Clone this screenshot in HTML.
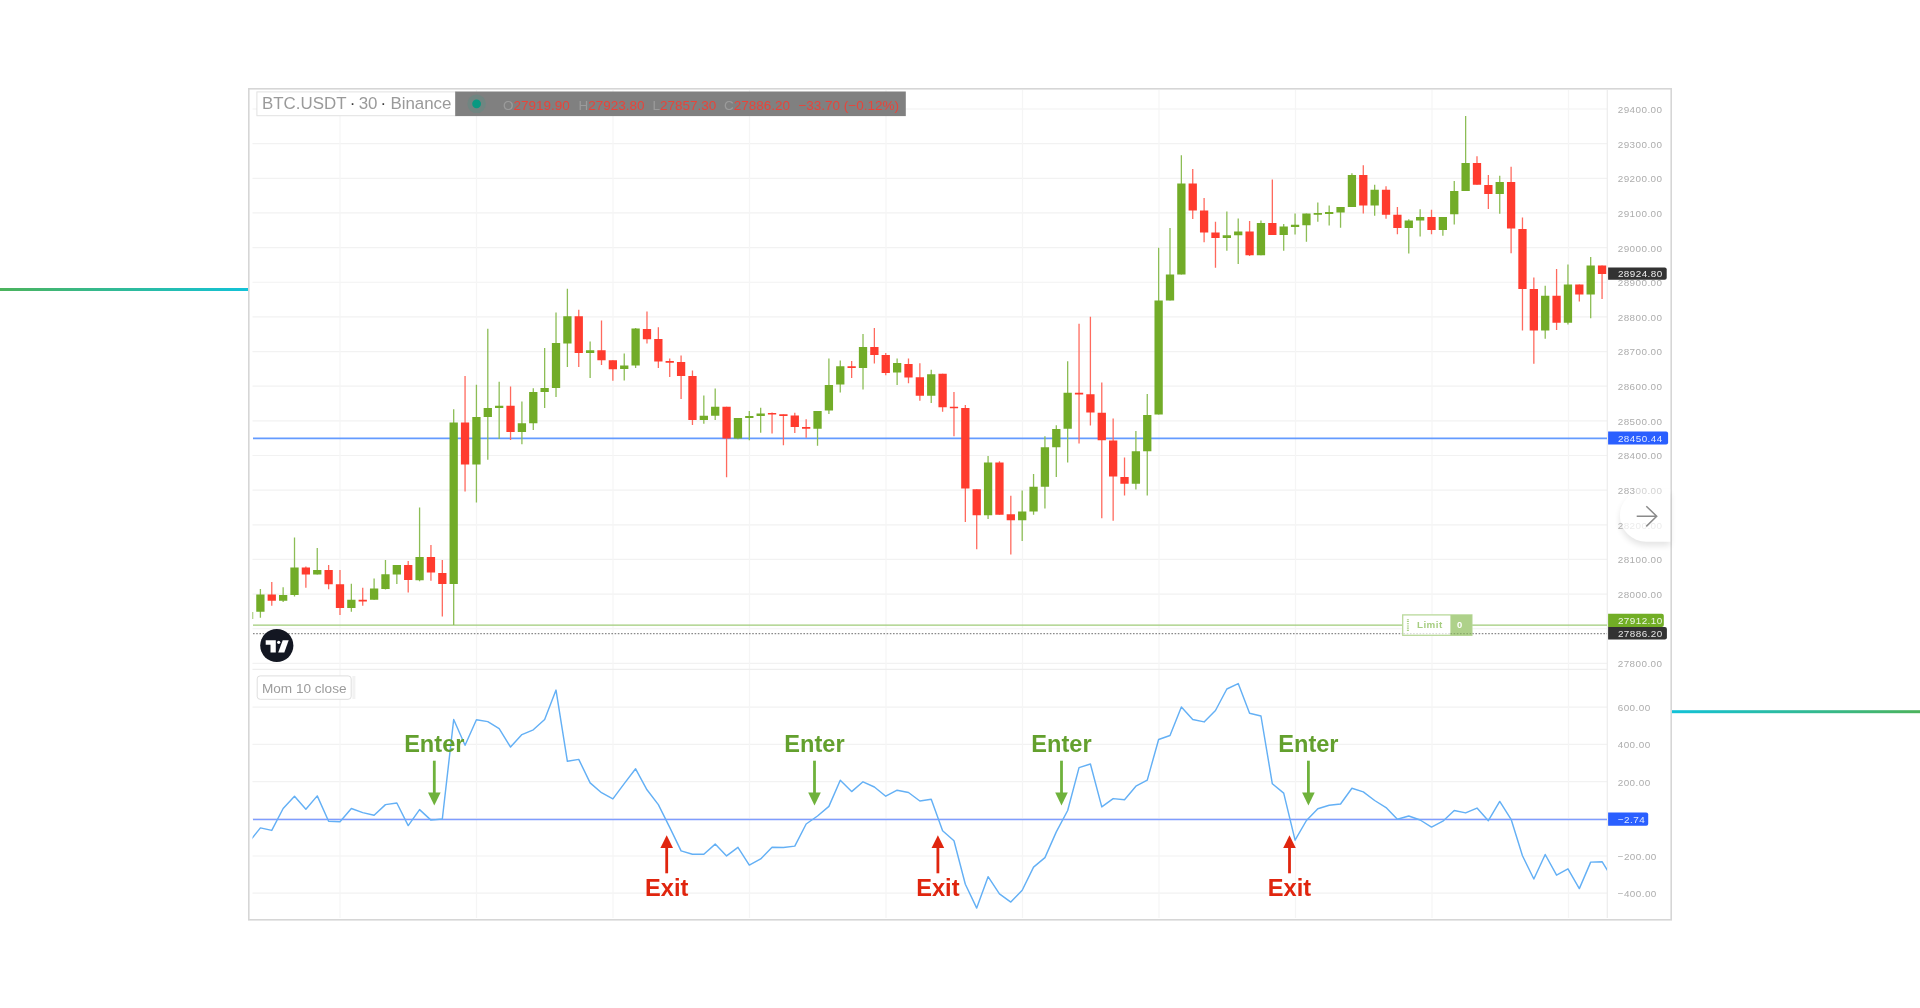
<!DOCTYPE html><html><head><meta charset="utf-8"><title>BTC.USDT Momentum</title><style>html,body{margin:0;padding:0;background:#fff;width:1920px;height:1008px;overflow:hidden}svg{position:absolute;left:0;top:0;display:block;filter:blur(0.4px)}text{font-family:"Liberation Sans",Arial,sans-serif}</style></head><body><svg width="1920" height="1008" viewBox="0 0 1920 1008"><defs><linearGradient id="gl" x1="0" x2="1" y1="0" y2="0"><stop offset="0" stop-color="#4cb35c"/><stop offset="1" stop-color="#12c2d8"/></linearGradient><linearGradient id="gr" x1="0" x2="1" y1="0" y2="0"><stop offset="0" stop-color="#12c2d8"/><stop offset="1" stop-color="#4cb35c"/></linearGradient><clipPath id="cp"><rect x="252.5" y="90" width="1354.5" height="579.3"/></clipPath><clipPath id="cm"><rect x="252.5" y="669.3" width="1354.5" height="248.7"/></clipPath><filter id="sh" x="-50%" y="-50%" width="200%" height="200%"><feGaussianBlur stdDeviation="3"/></filter></defs><rect x="0" y="288" width="248" height="3" fill="url(#gl)"/><rect x="1672" y="710.2" width="248" height="3" fill="url(#gr)"/><rect x="248.8" y="88.8" width="1422.4" height="831" fill="#fff" stroke="#d6d6d6" stroke-width="1.6"/><path d="M252.5 109H1607M252.5 143.65H1607M252.5 178.3H1607M252.5 212.95H1607M252.5 247.6H1607M252.5 282.25H1607M252.5 316.9H1607M252.5 351.55H1607M252.5 386.2H1607M252.5 420.85H1607M252.5 455.5H1607M252.5 490.15H1607M252.5 524.8H1607M252.5 559.45H1607M252.5 594.1H1607M252.5 628.75H1607M252.5 663.4H1607M252.5 707.2H1607M252.5 744.4H1607M252.5 781.6H1607M252.5 818.8H1607M252.5 856H1607M252.5 893.2H1607" stroke="#f2f2f2" stroke-width="1.2" fill="none"/><path d="M340 90V918M476.5 90V918M613 90V918M749.5 90V918M886 90V918M1022.5 90V918M1159 90V918M1295.5 90V918M1432 90V918M1568.5 90V918" stroke="#f5f5f5" stroke-width="1.2" fill="none"/><path d="M252.5 669.3H1607" stroke="#eeeeee" stroke-width="1.3"/><path d="M1607.3 90V918" stroke="#ececec" stroke-width="1.2"/><path d="M253 438.3H1607" stroke="#649bff" stroke-width="1.7"/><path d="M253 625.1H1607" stroke="#9fcb78" stroke-width="1.3"/><path d="M253 633.6H1607" stroke="#8a8a8a" stroke-width="1.3" stroke-dasharray="1.6 1.6"/><g clip-path="url(#cp)"><path d="M249.03 612V619M260.4 588.9V617.8M283.14 587.2V602.1M294.51 537.5V596.5M317.25 547.9V574.6M351.36 583.75V611.8M374.1 578.5V599.7M385.47 560V589.6M396.84 564.9V584M419.58 507.6V581.25M453.69 409.3V625M476.43 384.8V502.6M487.8 328.8V459.8M499.17 381.7V439M521.91 401.4V444.3M533.28 388.3V430M544.65 347.9V408.1M556.02 312.6V397.1M567.39 288.8V366.9M590.13 341.4V378.1M624.24 353.6V380.4M635.61 328V367.9M703.83 395.5V423.75M715.2 388.4V420M737.94 417.9V439.3M749.31 411V440.2M760.68 407.7V432.7M817.53 410.9V445.7M828.9 358.6V414.1M840.27 360.5V392.5M863.01 334.1V389.5M897.12 358.6V385M931.23 369.8V402.9M988.08 455.9V518.9M1022.19 490.4V541.1M1033.56 474.1V514.8M1044.93 436.25V508.6M1056.3 425.2V477M1067.67 361.3V462.5M1135.89 431V489.6M1147.26 394V495.4M1158.63 247.7V414.4M1170 227.9V300.4M1181.37 155.2V274.5M1226.85 211.4V250.7M1238.22 218.6V264.1M1260.96 220.4V255.2M1283.7 223.9V250.7M1295.07 213.6V234.6M1306.44 213.6V241.8M1317.81 202.6V221.8M1329.18 205.4V225.4M1340.55 207.1V227.7M1351.92 173.2V207.1M1374.66 184.8V215.7M1408.77 219.3V253.6M1420.14 209.3V236.6M1442.88 217V235.7M1454.25 180.9V224.6M1465.62 116.1V191M1499.73 175.7V213.7M1545.21 285.7V338.7M1567.95 264.5V324.5M1590.69 257.1V318.2" stroke="#8cbd55" stroke-width="1.3" fill="none"/><path d="M271.77 581.9V605.8M305.88 566.4V587.8M328.62 565V589.2M339.99 570.1V615M362.73 587.8V605.8M408.21 561.1V592.4M430.95 545.1V580.8M442.32 560V616.4M465.06 376V491.4M510.54 386.4V440M578.76 309.8V366.9M601.5 320.5V365M612.87 360.2V380.7M646.98 311.6V343.4M658.35 327.3V367.9M669.72 358.6V377.1M681.09 355.4V399.1M692.46 370.5V425M726.57 406.8V477.3M772.05 412.5V433.5M783.42 414.5V445.2M794.79 412.7V432.9M806.16 419.3V437.7M851.64 360.9V377.9M874.38 327.9V363.6M885.75 352.9V375.2M908.49 358.6V383.2M919.86 363.2V400.7M942.6 373.75V411.8M953.97 392.1V436.25M965.34 405V522M976.71 489.3V549.3M999.45 461.25V514.8M1010.82 495.7V554.6M1079.04 323.8V443.4M1090.41 316.7V425.5M1101.78 382.5V518.2M1113.15 418.5V520.8M1124.52 457.4V495.4M1192.74 169.1V219.1M1204.11 198V242.3M1215.48 221.8V267.7M1249.59 220.9V256.1M1272.33 179.6V235M1363.29 165.2V213.4M1386.03 186.25V218.75M1397.4 207.1V234.3M1431.51 209.8V234.3M1476.99 156.25V184.8M1488.36 175.1V208.9M1511.1 166.8V253.2M1522.47 217.6V330.6M1533.84 277.6V363.7M1556.58 268.9V330M1579.32 284.6V301.6M1602.06 265.4V299.1" stroke="#ff6a5e" stroke-width="1.3" fill="none"/><path d="M244.88 612h8.3v7h-8.3zM256.25 594.4h8.3v17.4h-8.3zM278.99 595.1h8.3v5.6h-8.3zM290.36 567.6h8.3v27.5h-8.3zM313.1 570.1h8.3v4.5h-8.3zM347.21 599.7h8.3v8.2h-8.3zM369.95 588.6h8.3v11.1h-8.3zM381.32 574.3h8.3v14.6h-8.3zM392.69 564.9h8.3v9.7h-8.3zM415.43 556.9h8.3v23.4h-8.3zM449.54 422.4h8.3v161.6h-8.3zM472.28 416.9h8.3v47.6h-8.3zM483.65 407.9h8.3v9h-8.3zM495.02 405.7h8.3v2.4h-8.3zM517.76 423.3h8.3v8.6h-8.3zM529.13 391.9h8.3v31.4h-8.3zM540.5 387.9h8.3v4h-8.3zM551.87 343.1h8.3v44.8h-8.3zM563.24 316.2h8.3v27.4h-8.3zM585.98 350.2h8.3v2.9h-8.3zM620.09 365.5h8.3v3.6h-8.3zM631.46 328.6h8.3v36.9h-8.3zM699.68 415.7h8.3v4.3h-8.3zM711.05 406.8h8.3v8.9h-8.3zM733.79 417.9h8.3v20.5h-8.3zM745.16 416.1h8.3v1.8h-8.3zM756.53 413.4h8.3v2.7h-8.3zM813.38 410.9h8.3v17.85h-8.3zM824.75 385h8.3v25.5h-8.3zM836.12 366.25h8.3v18.35h-8.3zM858.86 347h8.3v21h-8.3zM892.97 363h8.3v9.5h-8.3zM927.08 374.3h8.3v21.4h-8.3zM983.93 462.5h8.3v52.7h-8.3zM1018.04 511.6h8.3v8.6h-8.3zM1029.41 486.8h8.3v24.8h-8.3zM1040.78 447.3h8.3v39.5h-8.3zM1052.15 429.1h8.3v18.2h-8.3zM1063.52 392.7h8.3v36.05h-8.3zM1131.74 451.2h8.3v32.6h-8.3zM1143.11 415.1h8.3v36.1h-8.3zM1154.48 300.4h8.3v114h-8.3zM1165.85 274.5h8.3v25.9h-8.3zM1177.22 183.4h8.3v91.1h-8.3zM1222.7 235.2h8.3v2.7h-8.3zM1234.07 231.4h8.3v3.8h-8.3zM1256.81 223h8.3v32.2h-8.3zM1279.55 226.6h8.3v8.4h-8.3zM1290.92 224.8h8.3v2.2h-8.3zM1302.29 213.6h8.3v11.6h-8.3zM1313.66 213h8.3v1.8h-8.3zM1325.03 212.1h8.3v1.8h-8.3zM1336.4 207.1h8.3v5.4h-8.3zM1347.77 175h8.3v32.1h-8.3zM1370.51 189.8h8.3v15.6h-8.3zM1404.62 220.5h8.3v7.5h-8.3zM1415.99 217h8.3v3.5h-8.3zM1438.73 217h8.3v13h-8.3zM1450.1 191h8.3v23.3h-8.3zM1461.47 163h8.3v28h-8.3zM1495.58 182.1h8.3v12h-8.3zM1541.06 295.7h8.3v34.7h-8.3zM1563.8 284.6h8.3v38.1h-8.3zM1586.54 265.4h8.3v29.2h-8.3z" fill="#72ac28"/><path d="M267.62 594.4h8.3v6.3h-8.3zM301.73 567.4h8.3v7.2h-8.3zM324.47 570.1h8.3v14.2h-8.3zM335.84 584.3h8.3v23.6h-8.3zM358.58 599.7h8.3v1.7h-8.3zM404.06 564.9h8.3v15h-8.3zM426.8 556.9h8.3v15.6h-8.3zM438.17 572.9h8.3v11.1h-8.3zM460.91 422.4h8.3v42.1h-8.3zM506.39 405.7h8.3v26.2h-8.3zM574.61 316.2h8.3v36.9h-8.3zM597.35 350.2h8.3v10h-8.3zM608.72 360.2h8.3v9h-8.3zM642.83 328.9h8.3v10.4h-8.3zM654.2 338.9h8.3v22.7h-8.3zM665.57 361.02h8.3v1.7h-8.3zM676.94 362h8.3v13.9h-8.3zM688.31 375.9h8.3v44.1h-8.3zM722.42 406.8h8.3v31.6h-8.3zM767.9 412.9h8.3v1.7h-8.3zM779.27 414.35h8.3v1.7h-8.3zM790.64 415.4h8.3v11.6h-8.3zM802.01 427h8.3v1.75h-8.3zM847.49 366.25h8.3v1.75h-8.3zM870.23 347h8.3v8h-8.3zM881.6 355h8.3v17.9h-8.3zM904.34 363.9h8.3v13.6h-8.3zM915.71 377.3h8.3v18.4h-8.3zM938.45 373.75h8.3v33.45h-8.3zM949.82 406.65h8.3v1.7h-8.3zM961.19 408h8.3v80.6h-8.3zM972.56 489.3h8.3v25.9h-8.3zM995.3 462.5h8.3v52.3h-8.3zM1006.67 514.3h8.3v5.9h-8.3zM1074.89 392.7h8.3v1.7h-8.3zM1086.26 394.3h8.3v18.2h-8.3zM1097.63 412.7h8.3v27.6h-8.3zM1109 440.5h8.3v36.1h-8.3zM1120.37 477.1h8.3v6.7h-8.3zM1188.59 183.4h8.3v27.1h-8.3zM1199.96 210.5h8.3v22h-8.3zM1211.33 232.5h8.3v5.4h-8.3zM1245.44 231.4h8.3v23.8h-8.3zM1268.18 223h8.3v12h-8.3zM1359.14 175h8.3v30.4h-8.3zM1381.88 189.8h8.3v25h-8.3zM1393.25 214.8h8.3v13.2h-8.3zM1427.36 217h8.3v13h-8.3zM1472.84 163h8.3v21.8h-8.3zM1484.21 184.9h8.3v9.2h-8.3zM1506.95 182.1h8.3v46.4h-8.3zM1518.32 229h8.3v59.9h-8.3zM1529.69 288.9h8.3v41.5h-8.3zM1552.43 295.7h8.3v27h-8.3zM1575.17 284.6h8.3v10h-8.3zM1597.91 265.4h8.3v8.7h-8.3z" fill="#ff3b2e"/></g><line x1="253" y1="819.5" x2="1607" y2="819.5" stroke="#7f9dff" stroke-width="1.7"/><g clip-path="url(#cm)"><polyline points="249.03,842 260.4,827.9 271.77,830.4 283.14,808.5 294.51,796.2 305.88,809.2 317.25,795.9 328.62,821.3 339.99,821.7 351.36,808.5 362.73,812.6 374.1,815.3 385.47,804.6 396.84,803 408.21,825.6 419.58,809.6 430.95,820.1 442.32,819 453.69,719.5 465.06,745.3 476.43,719.7 487.8,721.6 499.17,728.6 510.54,747.1 521.91,734.6 533.28,729.8 544.65,719.5 556.02,690.1 567.39,761.3 578.76,759.4 590.13,782.9 601.5,792.7 612.87,798.9 624.24,783.6 635.61,768.8 646.98,789.8 658.35,804.6 669.72,827.4 681.09,850.9 692.46,854.3 703.83,854.3 715.2,844.1 726.57,855.9 737.94,847.3 749.31,865.1 760.68,858.9 772.05,847.3 783.42,847.5 794.79,846.1 806.16,824 817.53,816 828.9,806.4 840.27,780.2 851.64,791.6 863.01,781.8 874.38,787 885.75,796.2 897.12,790.2 908.49,792.5 919.86,801 931.23,799.3 942.6,830.7 953.97,840.7 965.34,884.3 976.71,908.1 988.08,876.7 999.45,893.8 1010.82,902.1 1022.19,890.2 1033.56,867.1 1044.93,857.6 1056.3,831.9 1067.67,810.5 1079.04,767.6 1090.41,764 1101.78,806.9 1113.15,798.6 1124.52,799.8 1135.89,786.2 1147.26,780.1 1158.63,739.5 1170,735.5 1181.37,706.9 1192.74,719.5 1204.11,721.9 1215.48,710.5 1226.85,689 1238.22,683.6 1249.59,713.3 1260.96,716 1272.33,783.8 1283.7,793.1 1295.07,840.2 1306.44,820.5 1317.81,808.8 1329.18,805.2 1340.55,804 1351.92,788.3 1363.29,791.9 1374.66,800.5 1386.03,807.6 1397.4,819.3 1408.77,816 1420.14,820 1431.51,827.1 1442.88,821.2 1454.25,810.5 1465.62,812.9 1476.99,808.1 1488.36,820.7 1499.73,801.4 1511.1,819.3 1522.47,855.7 1533.84,879 1545.21,854.5 1556.58,875.2 1567.95,868.8 1579.32,888.6 1590.69,862.1 1602.06,861.7 1613.43,880" fill="none" stroke="#64b0f5" stroke-width="1.45" stroke-linejoin="round"/></g><g><rect x="1402.7" y="614.9" width="69.2" height="20.4" fill="#fff" stroke="#b9d99b" stroke-width="1.3"/><rect x="1450.4" y="614.9" width="21.5" height="20.4" fill="#aed18a"/><path d="M1407.9 619.3V631" stroke="#a8cf84" stroke-width="2" stroke-dasharray="0.9 0.9"/><text x="1429.8" y="628.1" font-size="9.8" letter-spacing="0.45" font-weight="bold" fill="#a6cd80" text-anchor="middle">Limit</text><text x="1459.7" y="628.1" font-size="9.4" font-weight="bold" fill="#fff" text-anchor="middle">0</text><path d="M1403.5 633.6H1450.4" stroke="#8a8a8a" stroke-width="1.3" stroke-dasharray="1.6 1.6" opacity="0.3"/><path d="M1450.4 633.6H1471.5" stroke="#5d7a45" stroke-width="1.3" stroke-dasharray="1.6 1.6" opacity="0.45"/></g><text x="434.3" y="751.7" font-size="24.3" font-weight="bold" fill="#63a02e" text-anchor="middle" textLength="60.3" lengthAdjust="spacingAndGlyphs">Enter</text><path d="M434.3 760.7V794" stroke="#6fb23c" stroke-width="2.8"/><path d="M428 792.6h12.6l-6.3 12.8z" fill="#6fb23c"/><text x="814.5" y="751.7" font-size="24.3" font-weight="bold" fill="#63a02e" text-anchor="middle" textLength="60.3" lengthAdjust="spacingAndGlyphs">Enter</text><path d="M814.5 760.7V794" stroke="#6fb23c" stroke-width="2.8"/><path d="M808.2 792.6h12.6l-6.3 12.8z" fill="#6fb23c"/><text x="1061.5" y="751.7" font-size="24.3" font-weight="bold" fill="#63a02e" text-anchor="middle" textLength="60.3" lengthAdjust="spacingAndGlyphs">Enter</text><path d="M1061.5 760.7V794" stroke="#6fb23c" stroke-width="2.8"/><path d="M1055.2 792.6h12.6l-6.3 12.8z" fill="#6fb23c"/><text x="1308.4" y="751.7" font-size="24.3" font-weight="bold" fill="#63a02e" text-anchor="middle" textLength="60.3" lengthAdjust="spacingAndGlyphs">Enter</text><path d="M1308.4 760.7V794" stroke="#6fb23c" stroke-width="2.8"/><path d="M1302.1 792.6h12.6l-6.3 12.8z" fill="#6fb23c"/><text x="666.7" y="896.4" font-size="23.6" font-weight="bold" fill="#e0250e" text-anchor="middle">Exit</text><path d="M666.7 846V873.3" stroke="#e0250e" stroke-width="2.8"/><path d="M660.4 848h12.6l-6.3 -12.8z" fill="#e0250e"/><text x="937.9" y="896.4" font-size="23.6" font-weight="bold" fill="#e0250e" text-anchor="middle">Exit</text><path d="M937.9 846V873.3" stroke="#e0250e" stroke-width="2.8"/><path d="M931.6 848h12.6l-6.3 -12.8z" fill="#e0250e"/><text x="1289.5" y="896.4" font-size="23.6" font-weight="bold" fill="#e0250e" text-anchor="middle">Exit</text><path d="M1289.5 846V873.3" stroke="#e0250e" stroke-width="2.8"/><path d="M1283.2 848h12.6l-6.3 -12.8z" fill="#e0250e"/><rect x="256.9" y="91.9" width="199" height="23.8" fill="#fff" stroke="#e2e2e2" stroke-width="1"/><text y="109.1" font-size="16.9" fill="#9a9a9a"><tspan x="262">BTC.USDT</tspan><tspan x="349.65" fill="#3a3a3a">·</tspan><tspan x="358.7">30</tspan><tspan x="380.45" fill="#3a3a3a">·</tspan><tspan x="390.4">Binance</tspan></text><rect x="455.2" y="91.5" width="450.6" height="24.6" fill="#808080"/><circle cx="476.6" cy="103.8" r="9.3" fill="#5f8a82" opacity="0.5"/><circle cx="476.6" cy="103.8" r="4.4" fill="#089981"/><text y="110.4" font-size="13.5" fill="#e8443a"><tspan x="502.9" fill="#9b9b9b">O</tspan><tspan>27919.90</tspan><tspan x="578.4" fill="#9b9b9b">H</tspan><tspan>27923.80</tspan><tspan x="652.4" fill="#9b9b9b">L</tspan><tspan>27857.30</tspan><tspan x="724" fill="#9b9b9b">C</tspan><tspan>27886.20</tspan><tspan x="798.4">−33.70 (−0.12%)</tspan></text><circle cx="276.8" cy="645.5" r="16.6" fill="#131722"/><path d="M265.7 640.3H275.8V652.6H270.5V644.7H265.7z" fill="#fff"/><circle cx="278.7" cy="642.3" r="1.6" fill="#fff"/><path d="M282.7 640.3H288.7L284.3 652.6H278.2z" fill="#fff"/><rect x="257.2" y="675.9" width="94" height="23.4" rx="3" fill="#fff" stroke="#dedede" stroke-width="1"/><rect x="352.4" y="676" width="3" height="23" fill="#f2f2f2"/><text x="261.9" y="692.5" font-size="13.6" fill="#9c9c9c">Mom 10 close</text><path d="M1646.2 493.2a26.3 26.3 0 0 0 0 52.6H1670.2v-52.6z" fill="#000" opacity="0.10" filter="url(#sh)"/><path d="M1646.2 489.2a26.3 26.3 0 0 0 0 52.6H1670.2v-52.6z" fill="#fff"/><text x="1617.7" y="112.9" font-size="9.9" letter-spacing="0.45" fill="#adadad">29400.00</text><text x="1617.7" y="147.55" font-size="9.9" letter-spacing="0.45" fill="#adadad">29300.00</text><text x="1617.7" y="182.2" font-size="9.9" letter-spacing="0.45" fill="#adadad">29200.00</text><text x="1617.7" y="216.85" font-size="9.9" letter-spacing="0.45" fill="#adadad">29100.00</text><text x="1617.7" y="251.5" font-size="9.9" letter-spacing="0.45" fill="#adadad">29000.00</text><text x="1617.7" y="286.15" font-size="9.9" letter-spacing="0.45" fill="#adadad">28900.00</text><text x="1617.7" y="320.8" font-size="9.9" letter-spacing="0.45" fill="#adadad">28800.00</text><text x="1617.7" y="355.45" font-size="9.9" letter-spacing="0.45" fill="#adadad">28700.00</text><text x="1617.7" y="390.1" font-size="9.9" letter-spacing="0.45" fill="#adadad">28600.00</text><text x="1617.7" y="424.75" font-size="9.9" letter-spacing="0.45" fill="#adadad">28500.00</text><text x="1617.7" y="459.4" font-size="9.9" letter-spacing="0.45" fill="#adadad">28400.00</text><text x="1617.7" y="494.05" font-size="9.9" letter-spacing="0.45" fill="#adadad">283<tspan fill="#d2d2d2">00.00</tspan></text><text x="1617.7" y="528.7" font-size="9.9" letter-spacing="0.45" fill="#adadad">2<tspan fill="#ececec">8200.00</tspan></text><text x="1617.7" y="563.35" font-size="9.9" letter-spacing="0.45" fill="#adadad">28100.00</text><text x="1617.7" y="598" font-size="9.9" letter-spacing="0.45" fill="#adadad">28000.00</text><text x="1617.7" y="667.3" font-size="9.9" letter-spacing="0.45" fill="#adadad">27800.00</text><text x="1617.7" y="711.1" font-size="9.9" letter-spacing="0.45" fill="#adadad">600.00</text><text x="1617.7" y="748.3" font-size="9.9" letter-spacing="0.45" fill="#adadad">400.00</text><text x="1617.7" y="785.5" font-size="9.9" letter-spacing="0.45" fill="#adadad">200.00</text><text x="1617.7" y="859.9" font-size="9.9" letter-spacing="0.45" fill="#adadad">−200.00</text><text x="1617.7" y="897.1" font-size="9.9" letter-spacing="0.45" fill="#adadad">−400.00</text><path d="M1608.1 267.4H1664.7q2 0 2 2V277.7q0 2 -2 2H1608.1z" fill="#333333"/><text x="1617.9" y="277.25" font-size="9.9" letter-spacing="0.45" fill="#eeeeee">28924.80</text><path d="M1608.1 431.5H1666.1q2 0 2 2V442.6q0 2 -2 2H1608.1z" fill="#2a5fff"/><text x="1617.9" y="441.75" font-size="9.9" letter-spacing="0.45" fill="#dfe8ff">28450.44</text><path d="M1608.1 613.8H1661.8q2 0 2 2V625.1q0 2 -2 2H1608.1z" fill="#72ae26"/><text x="1617.9" y="624.15" font-size="9.9" letter-spacing="0.45" fill="#eef7e6">27912.10</text><path d="M1608.1 627.1H1664.9q2 0 2 2V637.6q0 2 -2 2H1608.1z" fill="#333333"/><text x="1617.9" y="637.05" font-size="9.9" letter-spacing="0.45" fill="#e6e6e6">27886.20</text><path d="M1608.1 812.6H1646.2q2 0 2 2V823.8q0 2 -2 2H1608.1z" fill="#2a5fff"/><text x="1617.9" y="822.9" font-size="9.9" letter-spacing="0.45" fill="#dfe8ff">−2.74</text><path d="M1636.7 516.3H1656.6M1646.3 506.2L1656.7 516.3L1646.3 526.4" fill="none" stroke="#8a8a8a" stroke-width="1.5"/></svg></body></html>
